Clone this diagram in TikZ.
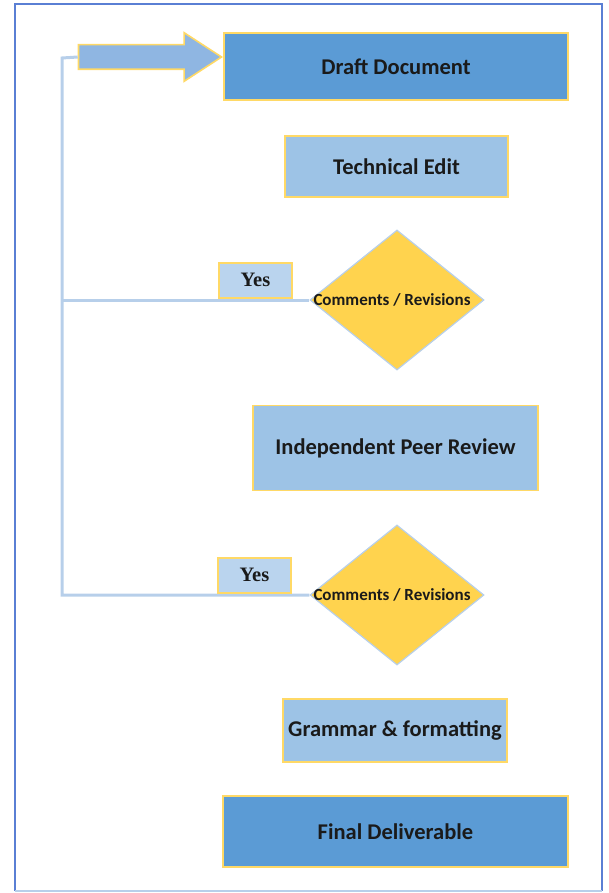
\documentclass[tikz,border=0pt]{standalone}
\usepackage{fontspec}
\setmainfont{Carlito}
\newfontfamily\yesfont{Liberation Serif}
\usetikzlibrary{shapes.geometric,shapes.arrows}
\definecolor{darkbox}{HTML}{5B9BD5}
\definecolor{lightbox}{HTML}{9DC3E6}
\definecolor{arrowfill}{HTML}{8FB6E2}
\definecolor{yesfill}{HTML}{BAD4EE}
\definecolor{goldline}{HTML}{FFD966}
\definecolor{diafill}{HTML}{FFD34E}
\definecolor{connline}{HTML}{B7CFEA}
\definecolor{frameblue}{HTML}{5A7FD4}
\definecolor{txt}{HTML}{1A1A1A}
\tikzset{
  box/.style={rectangle, draw=goldline, line width=1.6pt, text=txt, font=\bfseries\fontsize{22.5}{26}\selectfont, inner sep=0pt},
  darkstep/.style={box, fill=darkbox},
  lightstep/.style={box, fill=lightbox},
  yesbox/.style={rectangle, draw=goldline, line width=1.6pt, fill=yesfill, text=txt, font=\yesfont\bfseries\fontsize{20.5}{24}\selectfont, minimum width=73pt, minimum height=35pt, inner sep=0pt},
  decision/.style={diamond, draw=connline, line width=1.2pt, fill=diafill, minimum width=174pt, minimum height=140pt, inner sep=0pt, aspect=1.243},
  dtext/.style={text=txt, font=\bfseries\fontsize{17}{20}\selectfont, inner sep=0pt},
  conn/.style={draw=connline, line width=3pt},
  bigarrow/.style={single arrow, draw=goldline, line width=1.6pt, fill=arrowfill, minimum height=143pt, minimum width=47pt, inner xsep=0pt, inner ysep=11.5pt, single arrow head extend=12pt, single arrow tip angle=66, single arrow head indent=0pt}
}
\begin{document}
\begin{tikzpicture}[x=1pt,y=-1pt]
\useasboundingbox (0,0) rectangle (608,893);
% frame
\draw[frameblue, line width=2pt] (15,891) -- (15,4) -- (602,4) -- (602,891);
\draw[connline, line width=2pt] (15,891) -- (602,891);
% nodes
\node[darkstep, minimum width=344pt, minimum height=67pt] (draft) at (396,66.5) {Draft Document};
\node[lightstep, minimum width=223pt, minimum height=61pt] (tech) at (396.5,166.5) {Technical Edit};
\node[decision] (d1) at (397,300) {};
\node[dtext] (d1t) at (392,300) {Comments / Revisions};
\node[lightstep, minimum width=285pt, minimum height=85pt] (peer) at (395.5,448) {Independent Peer Review};
\node[decision] (d2) at (397,595) {};
\node[dtext] (d2t) at (392,595) {Comments / Revisions};
\node[lightstep, minimum width=224pt, minimum height=63pt] (gram) at (395,730.5) {Grammar \& formatting};
\node[darkstep, minimum width=345pt, minimum height=71pt] (final) at (395.5,831.5) {Final Deliverable};
\node[bigarrow, anchor=tip] (arr) at (223,57) {};
% connectors
\coordinate (top) at (62,58);
\draw[conn] (arr.west) -- (top) |- (d2.west);
\draw[conn] (d1.west) -- (d1.west -| top);
% Yes labels
\node[yesbox, anchor=south] (yes1) at (255.5,298.5) {Yes};
\node[yesbox, anchor=south] (yes2) at (254.5,593.5) {Yes};
\end{tikzpicture}
\end{document}
